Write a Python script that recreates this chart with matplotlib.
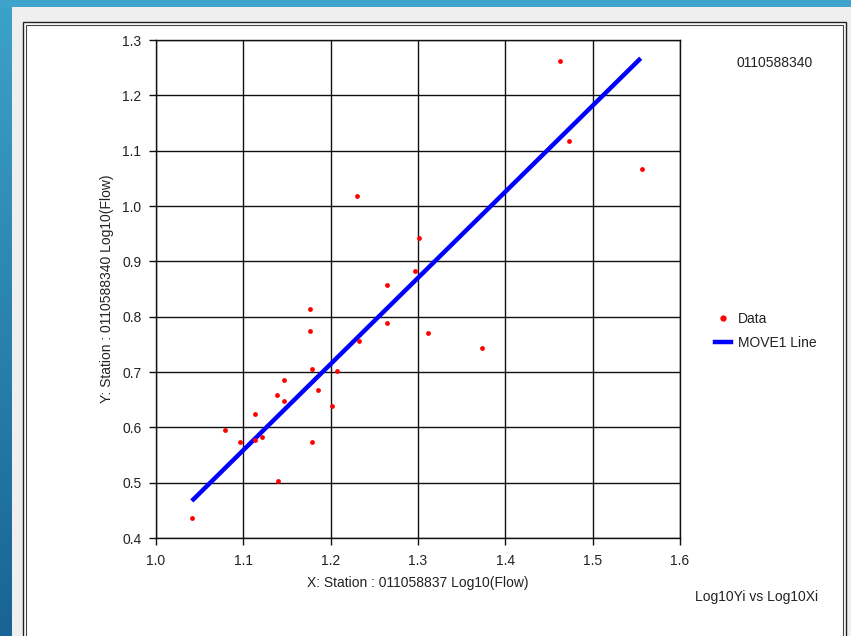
import numpy as np
import matplotlib
matplotlib.use("Agg")
import matplotlib.pyplot as plt
from matplotlib.lines import Line2D

plt.rcParams['font.family'] = ['Liberation Sans', 'DejaVu Sans']

# Data points (log10 flows)
x_data = [1.041, 1.079, 1.0965, 1.113, 1.113, 1.121, 1.140, 1.139, 1.146, 1.146,
          1.176, 1.176, 1.179, 1.179, 1.185, 1.201, 1.2075, 1.230, 1.2325, 1.264,
          1.264, 1.297, 1.3015, 1.312, 1.373, 1.4625, 1.473, 1.5565]
y_data = [0.437, 0.595, 0.574, 0.624, 0.577, 0.583, 0.503, 0.659, 0.686, 0.647,
          0.813, 0.775, 0.706, 0.574, 0.668, 0.638, 0.701, 1.018, 0.756, 0.858,
          0.789, 0.882, 0.943, 0.770, 0.744, 1.262, 1.118, 1.066]

# MOVE1 line endpoints
line_x = [1.041, 1.555]
line_y = [0.467, 1.267]

x_ticks = [1.0, 1.1, 1.2, 1.3, 1.4, 1.5, 1.6]
y_ticks = [0.4, 0.5, 0.6, 0.7, 0.8, 0.9, 1.0, 1.1, 1.2, 1.3]

W, H = 851, 636
fig = plt.figure(figsize=(W / 100, H / 100), dpi=100)
fig.patch.set_facecolor('white')

# Background / window chrome
bg = fig.add_axes([0, 0, 1, 1], zorder=-10)
bg.set_xlim(0, W)
bg.set_ylim(H, 0)
bg.axis('off')
grad = np.linspace(0, 1, 256)[:, None]
c_top = np.array([60, 162, 202]) / 255
c_bot = np.array([24, 100, 148]) / 255
img = c_top[None, None, :] * (1 - grad[:, :, None]) + c_bot[None, None, :] * grad[:, :, None]
bg.imshow(img, extent=(0, 12, H, 0), aspect='auto')
bg.add_patch(plt.Rectangle((0, 0), W, 7, color='#3ea4cc', lw=0))
bg.add_patch(plt.Rectangle((12, 7), W - 12, H - 7, color='#efefef', lw=0))
bg.add_patch(plt.Rectangle((23, 22), 823, H, facecolor='white', edgecolor='#222222', lw=1.0))
bg.add_patch(plt.Rectangle((26, 25), 817, H, facecolor='white', edgecolor='#444444', lw=0.8))
bg.set_xlim(0, W)
bg.set_ylim(H, 0)

ax = fig.add_axes([156 / W, (H - 538) / H, 524 / W, 498 / H])
ax.set_xlim(1.0, 1.6)
ax.set_ylim(0.4, 1.3)
ax.set_xticks(x_ticks)
ax.set_yticks(y_ticks)
ax.set_xticklabels([f"{v:.1f}" for v in x_ticks])
ax.set_yticklabels([f"{v:.1f}" for v in y_ticks])
ax.grid(True, color='#111111', linewidth=1.0)
ax.set_axisbelow(True)
for s in ax.spines.values():
    s.set_color('#111111')
    s.set_linewidth(1.0)
ax.tick_params(direction='out', length=5, width=1.0, color='#111111',
               labelsize=10, labelcolor='#222222')
ax.tick_params(axis='x', pad=6.5)
ax.tick_params(axis='y', pad=5.5)

ax.plot(line_x, line_y, color='#0000ff', linewidth=3.2, solid_capstyle='butt', zorder=3)
ax.scatter(x_data, y_data, s=12, color='#ff0000', marker='o', linewidths=0, zorder=4)

ax.set_xlabel('X: Station : 011058837 Log10(Flow)', fontsize=10, color='#222222', labelpad=6)
ax.set_ylabel('Y: Station : 0110588340 Log10(Flow)', fontsize=10, color='#222222', labelpad=6)

fig.text(775 / W, 1 - 63 / H, '0110588340', fontsize=10, color='#222222', ha='center', va='center')
fig.text(757 / W, 1 - 597 / H, 'Log10Yi vs Log10Xi', fontsize=10, color='#222222', ha='center', va='center')

handles = [Line2D([], [], marker='o', color='#ff0000', linestyle='none', markersize=3.5),
           Line2D([], [], color='#0000ff', linewidth=3.2)]
fig.legend(handles, ['Data', 'MOVE1 Line'], loc='center left',
           bbox_to_anchor=(702 / W, 1 - 331 / H), frameon=False, fontsize=10,
           handlelength=1.2, handletextpad=0.5, labelspacing=0.75,
           labelcolor='#222222')

fig.savefig('out.png', dpi=100)
